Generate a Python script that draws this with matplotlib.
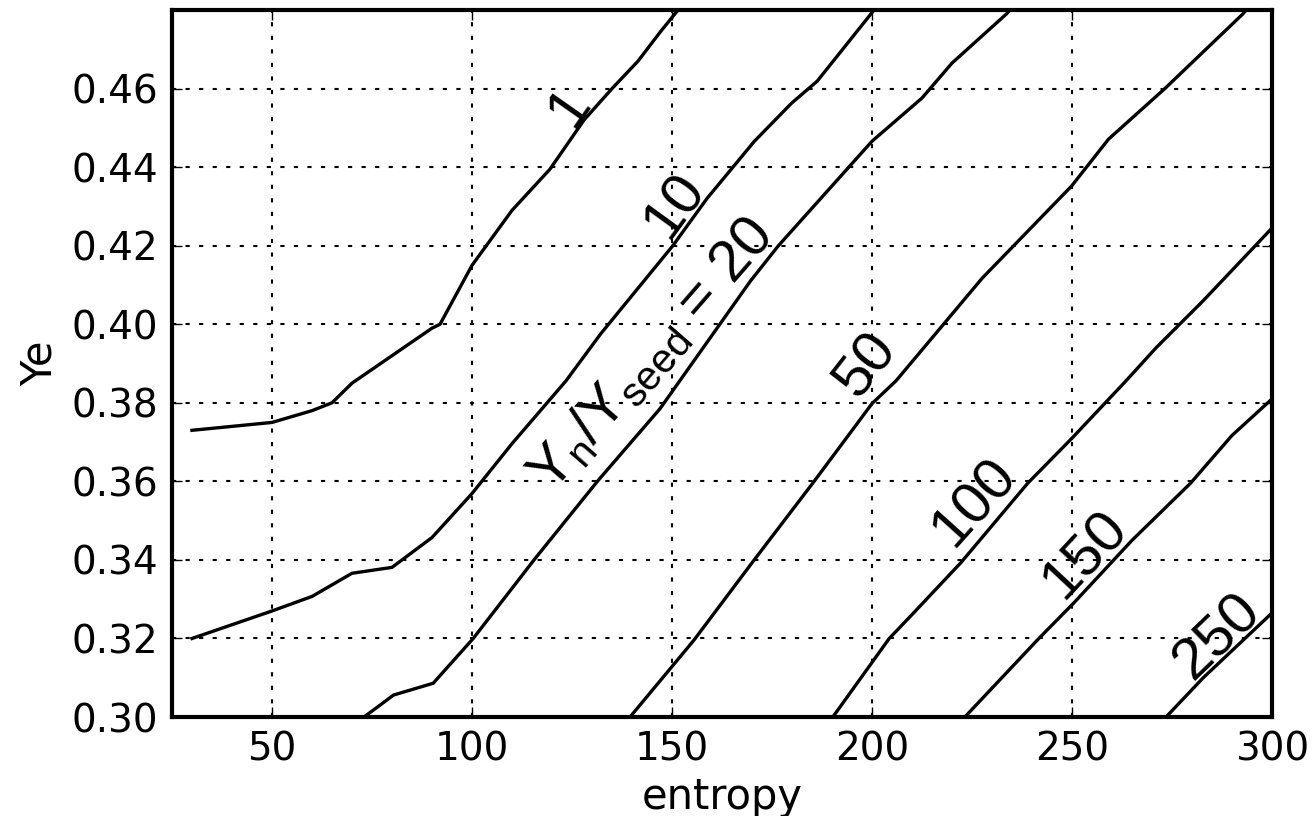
import numpy as np
import matplotlib
matplotlib.use('Agg')
import matplotlib.pyplot as plt

# contour lines of Yn/Yseed (entropy, Ye)
ent_1 = [30, 50, 60, 65, 70, 90, 92, 100, 110, 119.5, 128, 135, 141.5, 147.2, 151.5]
ye_1 = [0.373, 0.375, 0.378, 0.380, 0.385, 0.399, 0.400, 0.415, 0.429, 0.4395, 0.452, 0.460, 0.467, 0.4746, 0.48]

ent_10 = [30, 50, 60, 70, 80, 90, 100, 110, 123.5, 132.2, 150.2, 158.8, 170.6, 179.9, 186.3, 200.5]
ye_10 = [0.320, 0.327, 0.3307, 0.3366, 0.3381, 0.3457, 0.3569, 0.3696, 0.3856, 0.3976, 0.420, 0.4321, 0.4466, 0.4563, 0.4619, 0.48]

ent_20 = [73, 80.4, 90.3, 100.3, 115.5, 131.5, 147, 169.6, 176.6, 200, 212.5, 220, 233.6, 234.5]
ye_20 = [0.30, 0.3056, 0.3086, 0.32, 0.34, 0.3602, 0.3785, 0.411, 0.42, 0.4466, 0.4576, 0.4665, 0.479, 0.48]

ent_50 = [139.5, 155.5, 170.1, 185.3, 191.3, 200, 206, 227.6, 235.9, 249.9, 259.1, 273.2, 292.7, 293.5]
ye_50 = [0.30, 0.3196, 0.3394, 0.3597, 0.3679, 0.3798, 0.3856, 0.4118, 0.4205, 0.4352, 0.4471, 0.46, 0.479, 0.48]

ent_100 = [190.2, 204.3, 210.3, 222.3, 238.9, 249.9, 263.5, 271, 282.8, 300]
ye_100 = [0.30, 0.32, 0.3264, 0.3394, 0.3595, 0.3709, 0.3856, 0.394, 0.406, 0.4245]

ent_150 = [223.2, 241.7, 250.4, 265, 279.6, 290, 300]
ye_150 = [0.30, 0.32, 0.329, 0.345, 0.3595, 0.3717, 0.381]

ent_250 = [273.5, 282.8, 300]
ye_250 = [0.30, 0.31, 0.3265]

lineas = [(ent_1, ye_1), (ent_10, ye_10), (ent_20, ye_20), (ent_50, ye_50),
          (ent_100, ye_100), (ent_150, ye_150), (ent_250, ye_250)]

# labels: text, entropy, Ye, angle
etiquetas = [("1", 124.3, 0.4553, 55),
             ("10", 150.7, 0.4301, 54),
             (r"$\mathrm{Y_n/Y_{seed}}$ = 20", 144.9, 0.3922, 49),
             ("50", 198.5, 0.3897, 52),
             ("100", 225.7, 0.3547, 48),
             ("150", 253.4, 0.3414, 47),
             ("250", 286.2, 0.3204, 44)]

plt.rcParams['mathtext.fontset'] = 'custom'
plt.rcParams['mathtext.rm'] = 'Liberation Sans'
plt.rcParams['mathtext.it'] = 'Liberation Sans'

fig = plt.figure(figsize=(13.16, 8.16), dpi=100)
ax = fig.add_axes([0.1307, 0.1213, 0.8359, 0.8664])

for x, y in lineas:
    ax.plot(x, y, c='k', lw=2.4)

for txt, x, y, rot in etiquetas:
    ax.text(x, y, txt, rotation=rot, ha='center', va='center',
            fontsize=42, family='Liberation Sans', rotation_mode='anchor')

ax.set_xlim(25, 300)
ax.set_ylim(0.30, 0.48)
ax.set_xticks([50, 100, 150, 200, 250, 300])
ax.set_yticks(np.arange(0.30, 0.47, 0.02))
ax.set_yticklabels(["%.2f" % v for v in np.arange(0.30, 0.47, 0.02)])
ax.grid(True, color='k', linestyle=(0, (2, 4.5)), lw=1.5)
ax.tick_params(direction='in', top=True, right=True, length=7.5, width=1,
               labelsize=28, pad=10)
for s in ax.spines.values():
    s.set_linewidth(3)

ax.set_xlabel("entropy", fontsize=30, labelpad=5)
ax.set_ylabel("Ye", fontsize=30, labelpad=8)

plt.savefig("out.png", dpi=100)
